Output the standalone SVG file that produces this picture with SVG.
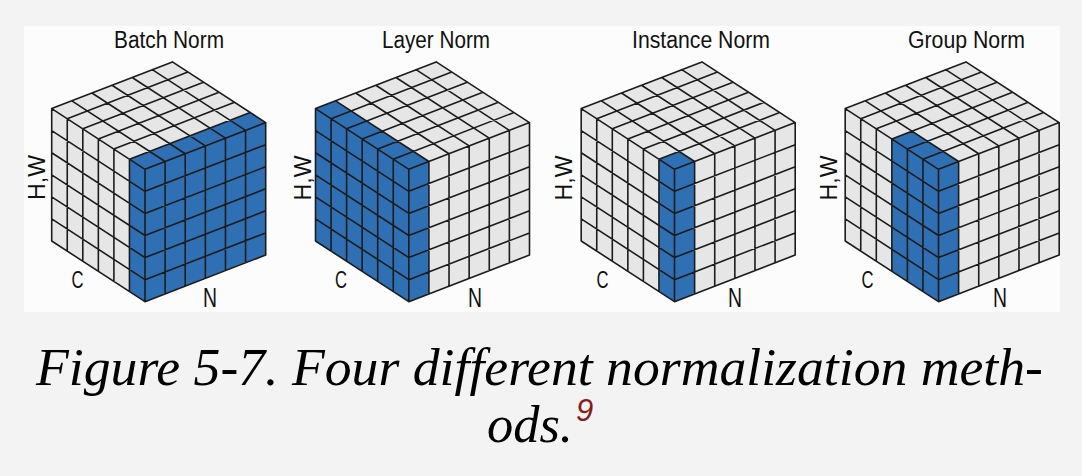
<svg xmlns="http://www.w3.org/2000/svg" xmlns:xlink="http://www.w3.org/1999/xlink" width="1082" height="476" viewBox="0 0 1082 476">
  <style>
    .face { fill: #e6e6e6; stroke: none; }
    .blue { fill: #2f6fb3; stroke: none; }
    .grid { fill: none; stroke: #1c1c1c; stroke-width: 1.6; stroke-linejoin: round; stroke-linecap: round; }
    .title { font-family: "Liberation Sans", "Noto Sans", sans-serif; font-size: 23px; fill: #111; text-anchor: middle; }
    .axis { font-family: "Liberation Sans", "Noto Sans", sans-serif; font-size: 23px; fill: #111; text-anchor: middle; }
    .axis-n { font-family: "Liberation Sans", "Noto Sans", sans-serif; font-size: 27px; fill: #111; text-anchor: middle; }
    .caption { font-family: "Liberation Serif", "Times New Roman", serif; font-style: italic; font-size: 52px; fill: #000; }
    .note { font-family: "Liberation Sans", sans-serif; font-style: italic; font-size: 31px; fill: #8a1c1c; }
  </style>
  <defs>
    <g id="faces">
      <polygon class="face" points="0,0 -93.3,-60.7 -93.3,71.7 0,132.4"/>
      <polygon class="face" points="0,0 120.7,-46.7 120.7,85.7 0,132.4"/>
      <polygon class="face" points="0,0 -93.3,-60.7 27.4,-107.4 120.7,-46.7"/>
    </g>
    <path id="grid" class="grid" d="
      M0,0 V132.4 M-15.55,-10.12 V122.28 M-31.1,-20.23 V112.17 M-46.65,-30.35 V102.05 M-62.2,-40.47 V91.93 M-77.75,-50.58 V81.82 M-93.3,-60.7 V71.7
      M0,0 l-93.3,-60.7 M0,22.07 l-93.3,-60.7 M0,44.13 l-93.3,-60.7 M0,66.2 l-93.3,-60.7 M0,88.27 l-93.3,-60.7 M0,110.33 l-93.3,-60.7 M0,132.4 l-93.3,-60.7
      M20.12,-7.78 V124.62 M40.23,-15.57 V116.83 M60.35,-23.35 V109.05 M80.47,-31.13 V101.27 M100.58,-38.92 V93.48 M120.7,-46.7 V85.7
      M0,0 l120.7,-46.7 M0,22.07 l120.7,-46.7 M0,44.13 l120.7,-46.7 M0,66.2 l120.7,-46.7 M0,88.27 l120.7,-46.7 M0,110.33 l120.7,-46.7 M0,132.4 l120.7,-46.7
      M20.12,-7.78 l-93.3,-60.7 M40.23,-15.57 l-93.3,-60.7 M60.35,-23.35 l-93.3,-60.7 M80.47,-31.13 l-93.3,-60.7 M100.58,-38.92 l-93.3,-60.7 M120.7,-46.7 l-93.3,-60.7
      M-15.55,-10.12 l120.7,-46.7 M-31.1,-20.23 l120.7,-46.7 M-46.65,-30.35 l120.7,-46.7 M-62.2,-40.47 l120.7,-46.7 M-77.75,-50.58 l120.7,-46.7 M-93.3,-60.7 l120.7,-46.7"/>
  </defs>

  <rect x="0" y="0" width="1082" height="476" fill="#f3f3f3"/>
  <rect x="24" y="26" width="1036" height="286" fill="#fcfcfc"/>

  <g id="batch-norm">
    <text class="title" x="169" y="48.3" textLength="110" lengthAdjust="spacingAndGlyphs">Batch Norm</text>
    <g transform="translate(145,169.3)">
      <use xlink:href="#faces"/>
      <polygon class="blue" points="0,0 -15.55,-10.12 -15.55,122.28 0,132.4"/>
      <polygon class="blue" points="0,0 -15.55,-10.12 105.15,-56.82 120.7,-46.7"/>
      <polygon class="blue" points="0,0 120.7,-46.7 120.7,85.7 0,132.4"/>
      <use xlink:href="#grid"/>
    </g>
    <text class="axis" transform="translate(44.5,177.5) rotate(-90)" textLength="45" lengthAdjust="spacingAndGlyphs">H,W</text>
    <text class="axis" x="77.5" y="288" textLength="12" lengthAdjust="spacingAndGlyphs">C</text>
    <text class="axis-n" x="210" y="306.5" textLength="14" lengthAdjust="spacingAndGlyphs">N</text>
  </g>

  <g id="layer-norm">
    <text class="title" x="436" y="48.3" textLength="108" lengthAdjust="spacingAndGlyphs">Layer Norm</text>
    <g transform="translate(408.8,169.3)">
      <use xlink:href="#faces"/>
      <polygon class="blue" points="0,0 -93.3,-60.7 -93.3,71.7 0,132.4"/>
      <polygon class="blue" points="0,0 20.12,-7.78 -73.18,-68.48 -93.3,-60.7"/>
      <polygon class="blue" points="0,0 20.12,-7.78 20.12,124.62 0,132.4"/>
      <use xlink:href="#grid"/>
    </g>
    <text class="axis" transform="translate(311,178) rotate(-90)" textLength="45" lengthAdjust="spacingAndGlyphs">H,W</text>
    <text class="axis" x="341" y="288" textLength="12" lengthAdjust="spacingAndGlyphs">C</text>
    <text class="axis-n" x="475" y="306.5" textLength="14" lengthAdjust="spacingAndGlyphs">N</text>
  </g>

  <g id="instance-norm">
    <text class="title" x="701" y="48.3" textLength="138" lengthAdjust="spacingAndGlyphs">Instance Norm</text>
    <g transform="translate(674.5,169.3)">
      <use xlink:href="#faces"/>
      <polygon class="blue" points="0,0 -15.55,-10.12 -15.55,122.28 0,132.4"/>
      <polygon class="blue" points="0,0 -15.55,-10.12 4.57,-17.9 20.12,-7.78"/>
      <polygon class="blue" points="0,0 20.12,-7.78 20.12,124.62 0,132.4"/>
      <use xlink:href="#grid"/>
    </g>
    <text class="axis" transform="translate(572,178) rotate(-90)" textLength="45" lengthAdjust="spacingAndGlyphs">H,W</text>
    <text class="axis" x="602.5" y="288" textLength="12" lengthAdjust="spacingAndGlyphs">C</text>
    <text class="axis-n" x="735" y="306.5" textLength="14" lengthAdjust="spacingAndGlyphs">N</text>
  </g>

  <g id="group-norm">
    <text class="title" x="966.5" y="48.3" textLength="117" lengthAdjust="spacingAndGlyphs">Group Norm</text>
    <g transform="translate(938.5,169.3)">
      <use xlink:href="#faces"/>
      <polygon class="blue" points="0,0 -46.65,-30.35 -46.65,102.05 0,132.4"/>
      <polygon class="blue" points="0,0 -46.65,-30.35 -26.53,-38.13 20.12,-7.78"/>
      <polygon class="blue" points="0,0 20.12,-7.78 20.12,124.62 0,132.4"/>
      <use xlink:href="#grid"/>
    </g>
    <text class="axis" transform="translate(836.5,178) rotate(-90)" textLength="45" lengthAdjust="spacingAndGlyphs">H,W</text>
    <text class="axis" x="867.5" y="288" textLength="12" lengthAdjust="spacingAndGlyphs">C</text>
    <text class="axis-n" x="1000" y="306.5" textLength="14" lengthAdjust="spacingAndGlyphs">N</text>
  </g>

  <g id="caption">
    <text class="caption" x="36" y="385" textLength="1007" lengthAdjust="spacingAndGlyphs">Figure 5-7. Four different normalization meth-</text>
    <text class="caption" x="487" y="441.7" textLength="86" lengthAdjust="spacingAndGlyphs">ods.</text>
    <text class="note" x="576" y="421">9</text>
  </g>
</svg>
